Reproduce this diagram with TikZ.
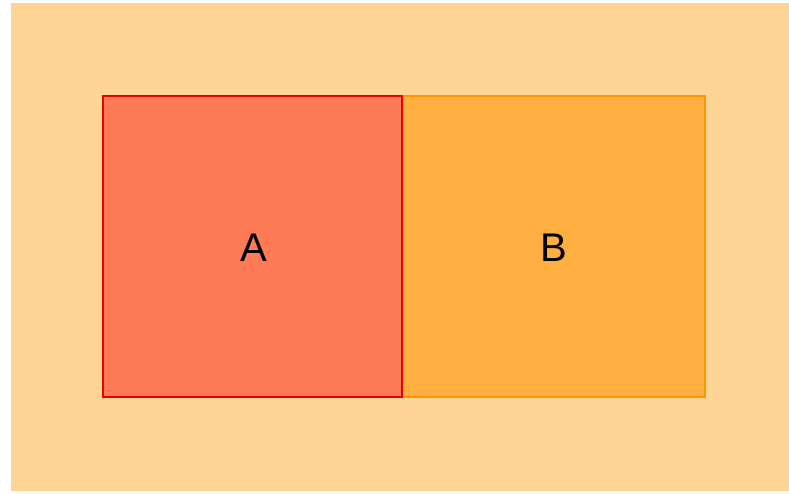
\documentclass[tikz,border=0pt]{standalone}
\usepackage{fontspec}
\setmainfont{Liberation Sans}
\definecolor{bgc}{RGB}{255,213,149}
\definecolor{afill}{RGB}{255,123,86}
\definecolor{aline}{RGB}{235,0,0}
\definecolor{bfill}{RGB}{255,175,64}
\definecolor{bline}{RGB}{255,150,0}
\begin{document}
\begin{tikzpicture}[x=1pt,y=-1pt,
  boxa/.style={draw=aline,fill=afill,line width=2pt},
  boxb/.style={draw=bline,fill=bfill,line width=2pt},
  lbl/.style={font=\fontsize{40}{48}\selectfont,text=black}]
\useasboundingbox (0,0) rectangle (789,493);
\fill[white] (0,0) rectangle (789,493);
\fill[bgc] (11,3) rectangle (789,491);
\draw[boxb] (402,96) rectangle (705,397);
\draw[boxa] (103,96) rectangle (402,397);
\node[lbl] (A) at (254,248) {A};
\node[lbl] (B) at (554,248) {B};
\end{tikzpicture}
\end{document}
